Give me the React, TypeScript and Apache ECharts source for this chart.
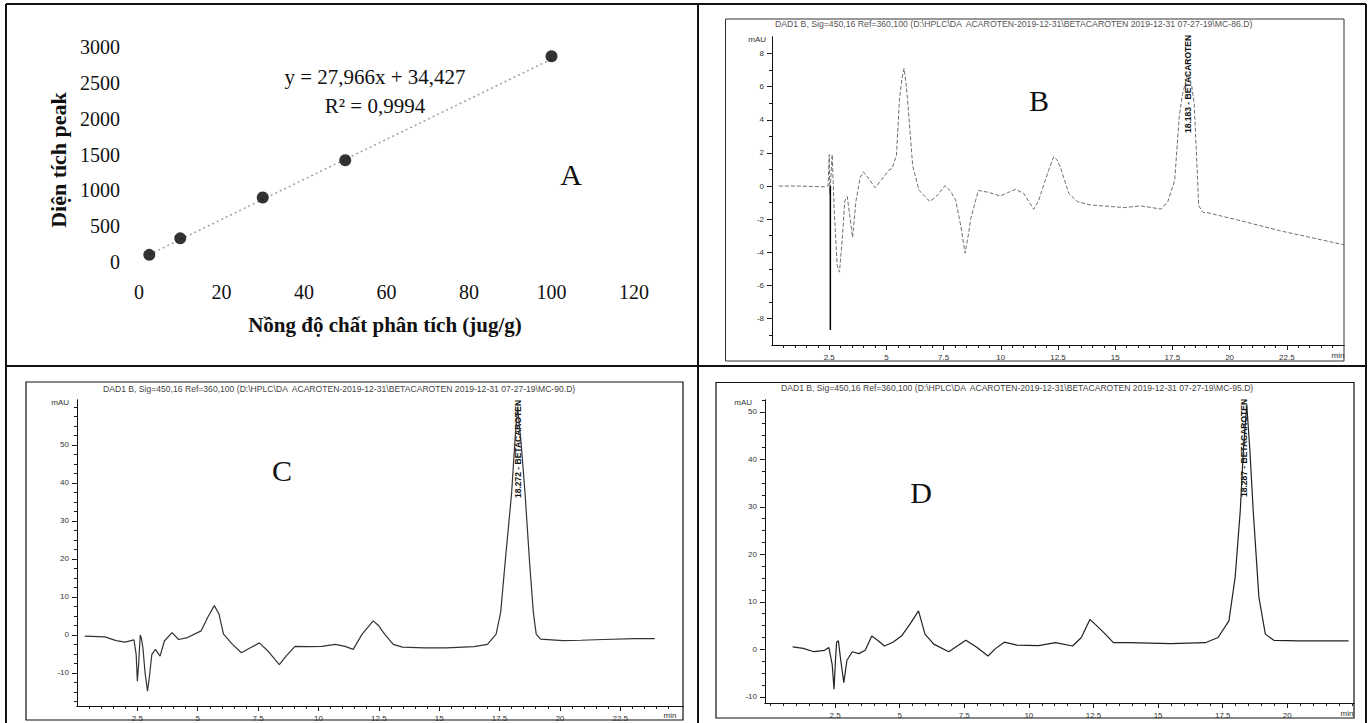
import React, { useEffect, useRef } from "react";
import * as echarts from "echarts";

// ---------- Panel A: calibration curve ----------
const calConc = [2.5, 10, 30, 50, 100];
const calArea = [100, 330, 900, 1420, 2870];
const trendConc = [2.5, 100];
const trendArea = [104, 2831];

// ---------- Panel B: chromatogram (standard) ----------
const bTime = [0.3, 1.2, 2.3, 2.45, 2.5, 2.53, 2.63, 2.72, 2.85, 2.95, 3.08, 3.18, 3.29, 3.4, 3.52, 3.67, 3.85, 3.99, 4.2, 4.51, 4.8, 5.11, 5.25, 5.44, 5.57, 5.68, 5.77, 5.86, 5.96, 6.15, 6.43, 6.9, 7.2, 7.56, 7.8, 8.03, 8.25, 8.44, 8.6, 8.68, 9.02, 9.43, 9.98, 10.3, 10.64, 11.0, 11.25, 11.44, 11.65, 11.85, 12.1, 12.31, 12.45, 12.6, 12.97, 13.35, 13.9, 14.84, 15.4, 16.1, 16.6, 17.0, 17.3, 17.6, 17.8, 17.95, 18.18, 18.35, 18.45, 18.55, 18.65, 18.85, 19.0, 20.5, 22.2, 25.0];
const bSignal = [0, 0, -0.05, 0, 1.9, -0.5, 1.9, -1.5, -4.8, -5.2, -3.0, -0.9, -0.64, -1.8, -3.1, -0.9, 0.5, 0.86, 0.5, -0.1, 0.4, 0.96, 1.06, 1.87, 5.2, 6.5, 7.1, 6.2, 4.6, 1.2, -0.26, -0.94, -0.6, 0.02, -0.3, -0.87, -2.4, -4.05, -2.8, -2.0, -0.27, -0.37, -0.6, -0.4, -0.2, -0.44, -1.0, -1.4, -0.9, -0.05, 1.0, 1.77, 1.6, 1.16, -0.44, -0.94, -1.14, -1.24, -1.3, -1.2, -1.3, -1.4, -0.94, 0.34, 4.2, 5.6, 6.8, 6.0, 5.0, 2.0, -1.2, -1.6, -1.6, -2.1, -2.7, -3.55];
const bSpikeTime = [2.55, 2.55];
const bSpikeSignal = [0, -8.7];

// ---------- Panel C: chromatogram (sample 1) ----------
const cTime = [0.32, 1.16, 1.62, 1.99, 2.36, 2.45, 2.5, 2.55, 2.62, 2.67, 2.73, 2.82, 2.92, 3.0, 3.1, 3.25, 3.44, 3.62, 3.94, 4.21, 4.58, 5.14, 5.41, 5.69, 5.88, 6.07, 6.44, 6.81, 7.18, 7.55, 7.92, 8.38, 8.66, 9.03, 9.59, 10.14, 10.7, 11.1, 11.44, 11.81, 12.27, 12.5, 12.74, 13.1, 13.48, 14.4, 15.3, 16.44, 17.0, 17.36, 17.55, 17.74, 18.0, 18.15, 18.25, 18.4, 18.56, 18.74, 18.9, 19.02, 19.2, 20.13, 20.87, 21.8, 23.1, 23.93];
const cSignal = [-0.3, -0.5, -1.5, -1.9, -1.3, -5.1, -12.2, -8, 0, -1.0, -3.4, -10, -14.8, -11, -5.1, -3.8, -5.6, -1.6, 0.6, -1.2, -0.7, 1.06, 4.6, 7.7, 5.5, 0.2, -2.5, -4.7, -3.4, -2.1, -4.3, -7.8, -5.6, -3.0, -3.1, -3.0, -2.5, -3.0, -3.8, 0.2, 3.7, 2.4, 0.2, -2.5, -3.2, -3.4, -3.4, -3.1, -2.5, 0.2, 6, 19.6, 37.2, 52, 60, 50, 37, 19.6, 6, 0.2, -1.1, -1.5, -1.4, -1.2, -1.0, -1.0];

// ---------- Panel D: chromatogram (sample 2) ----------
const dTime = [0.86, 1.27, 1.68, 2.1, 2.26, 2.39, 2.46, 2.52, 2.56, 2.63, 2.72, 2.84, 2.96, 3.17, 3.42, 3.67, 3.92, 4.17, 4.41, 4.74, 5.07, 5.4, 5.73, 5.98, 6.32, 6.9, 7.23, 7.56, 7.97, 8.42, 8.72, 9.05, 9.54, 10.37, 11.03, 11.69, 12.03, 12.36, 12.6, 12.94, 13.27, 13.85, 15.5, 16.83, 17.32, 17.74, 17.98, 18.18, 18.3, 18.43, 18.55, 18.68, 18.9, 19.15, 19.48, 20.47, 22.37];
const dSignal = [0.5, 0.2, -0.5, -0.2, 0.4, -3.2, -8.4, -2, 1.5, 1.8, -2.3, -7.0, -2.3, -0.5, -0.9, -0.2, 2.8, 1.8, 0.7, 1.5, 2.8, 5.3, 8.1, 3.2, 1.1, -0.5, 0.7, 1.9, 0.5, -1.4, 0.2, 1.5, 0.9, 0.8, 1.4, 0.7, 2.5, 6.3, 5.1, 3.3, 1.4, 1.4, 1.2, 1.4, 2.5, 6.0, 15.1, 29.2, 42, 51.5, 42, 29.2, 11, 3.2, 1.9, 1.8, 1.8];

// ---------- Tick labels ----------
const bcXLabels = [2.5, 5, 7.5, 10, 12.5, 15, 17.5, 20, 22.5];
const dXLabels = [2.5, 5, 7.5, 10, 12.5, 15, 17.5, 20];
const bYLabels = [-8, -6, -4, -2, 0, 2, 4, 6, 8];
const cYLabels = [-10, 0, 10, 20, 30, 40, 50];
const dYLabels = [-10, 0, 10, 20, 30, 40, 50];

const bTitle = "DAD1 B, Sig=450,16 Ref=360,100 (D:\\HPLC\\DA  ACAROTEN-2019-12-31\\BETACAROTEN 2019-12-31 07-27-19\\MC-86.D)";
const cTitle = "DAD1 B, Sig=450,16 Ref=360,100 (D:\\HPLC\\DA  ACAROTEN-2019-12-31\\BETACAROTEN 2019-12-31 07-27-19\\MC-90.D)";
const dTitle = "DAD1 B, Sig=450,16 Ref=360,100 (D:\\HPLC\\DA  ACAROTEN-2019-12-31\\BETACAROTEN 2019-12-31 07-27-19\\MC-95.D)";

const serif = "'Liberation Serif', 'DejaVu Serif', serif";
const sans = "'Liberation Sans', Arial, sans-serif";

function zip(a: number[], b: number[]) {
  return a.map((v, i) => [v, b[i]]);
}
function steps(a: number, b: number, s: number) {
  const r: number[] = [];
  for (let v = a; v <= b + 1e-9; v += s) r.push(Math.round(v * 100) / 100);
  return r;
}

function chromAxisPair(gridIndex: number, min: number, max: number, labels: number[], minor: number[], pos: string) {
  const main: any = {
    type: "value", gridIndex, min, max, position: pos,
    axisLine: { show: true, onZero: false, lineStyle: { color: "#111", width: 1 } },
    axisTick: { show: true, inside: false, length: 5, customValues: labels, lineStyle: { color: "#111", width: 1 } },
    axisLabel: { show: true, customValues: labels, fontSize: 8, fontFamily: sans, color: "#333", margin: 8, formatter: (v: number) => String(v) },
    splitLine: { show: false },
  };
  const sub: any = {
    type: "value", gridIndex, min, max, position: pos,
    axisLine: { show: true, onZero: false, lineStyle: { color: "#111", width: 1 } },
    axisTick: { show: true, inside: false, length: 3, customValues: minor, lineStyle: { color: "#222", width: 1 } },
    axisLabel: { show: false },
    splitLine: { show: false },
  };
  return [main, sub];
}

export default function App() {
  const ref = useRef<HTMLDivElement>(null);
  useEffect(() => {
    if (!ref.current) return;
    const chart = echarts.init(ref.current, null, { renderer: "svg" });

    const bx = chromAxisPair(1, 0, 25, bcXLabels, steps(0.5, 24.5, 0.5), "bottom");
    const cx = chromAxisPair(2, 0, 25.1, bcXLabels, steps(0.5, 24.5, 0.5), "bottom");
    const dx = chromAxisPair(3, -0.21, 22.58, dXLabels, steps(0, 22.5, 0.5), "bottom");
    const by = chromAxisPair(1, -9.6, 9, bYLabels, steps(-9, 8, 1), "left");
    const cy = chromAxisPair(2, -18.7, 61.8, cYLabels, steps(-17.5, 60, 2.5), "left");
    const dy = chromAxisPair(3, -11.3, 52.5, dYLabels, steps(-10, 52.5, 2.5), "left");

    const aLabel = { fontSize: 20, fontFamily: serif, color: "#111", formatter: (v: number) => String(v) };

    const option: any = {
      animation: false,
      backgroundColor: "#fff",
      grid: [
        { left: 139, top: 47, width: 495, height: 215 },
        { left: 772, top: 37, width: 572, height: 308 },
        { left: 77, top: 400, width: 606, height: 306 },
        { left: 765, top: 400, width: 589, height: 303 },
      ],
      xAxis: [
        {
          type: "value", gridIndex: 0, min: 0, max: 120, interval: 20,
          axisLine: { show: false }, axisTick: { show: false }, splitLine: { show: false },
          axisLabel: { ...aLabel, margin: 20 },
        },
        ...bx, ...cx, ...dx,
      ],
      yAxis: [
        {
          type: "value", gridIndex: 0, min: 0, max: 3000, interval: 500,
          axisLine: { show: false }, axisTick: { show: false }, splitLine: { show: false },
          axisLabel: { ...aLabel, margin: 19 },
        },
        ...by, ...cy, ...dy,
      ],
      series: [
        {
          type: "line", xAxisIndex: 0, yAxisIndex: 0, data: zip(trendConc, trendArea),
          symbol: "none", lineStyle: { color: "#a0a0a0", width: 1.5, type: [2, 3] }, z: 1,
        },
        {
          type: "scatter", xAxisIndex: 0, yAxisIndex: 0, data: zip(calConc, calArea),
          symbol: "circle", symbolSize: 12, itemStyle: { color: "#000" }, z: 3,
        },
        {
          type: "line", xAxisIndex: 1, yAxisIndex: 2, data: zip(bTime, bSignal),
          symbol: "none", lineStyle: { color: "#6e6e6e", width: 1, type: [4, 2] },
        },
        {
          type: "line", xAxisIndex: 1, yAxisIndex: 2, data: zip(bSpikeTime, bSpikeSignal),
          symbol: "none", lineStyle: { color: "#000", width: 1.5 },
        },
        {
          type: "line", xAxisIndex: 3, yAxisIndex: 4, data: zip(cTime, cSignal),
          symbol: "none", lineStyle: { color: "#333", width: 1.2 },
        },
        {
          type: "line", xAxisIndex: 5, yAxisIndex: 6, data: zip(dTime, dSignal),
          symbol: "none", lineStyle: { color: "#222", width: 1.2 },
        },
      ],
      graphic: [
        // table borders
        { type: "line", shape: { x1: 6, y1: 4, x2: 1366, y2: 4 }, style: { stroke: "#111", lineWidth: 2 } },
        { type: "line", shape: { x1: 6, y1: 4, x2: 6, y2: 723 }, style: { stroke: "#111", lineWidth: 2 } },
        { type: "line", shape: { x1: 1366, y1: 4, x2: 1366, y2: 723 }, style: { stroke: "#111", lineWidth: 2 } },
        { type: "line", shape: { x1: 698, y1: 4, x2: 698, y2: 723 }, style: { stroke: "#111", lineWidth: 2 } },
        { type: "line", shape: { x1: 6, y1: 366, x2: 1366, y2: 366 }, style: { stroke: "#111", lineWidth: 2 } },
        // chromatogram frames
        { type: "rect", shape: { x: 725.5, y: 19, width: 618.5, height: 342 }, style: { fill: "none", stroke: "#333", lineWidth: 1 } },
        { type: "rect", shape: { x: 26, y: 382, width: 657, height: 338 }, style: { fill: "none", stroke: "#111", lineWidth: 1.2 } },
        { type: "rect", shape: { x: 716, y: 382.5, width: 638, height: 335.5 }, style: { fill: "none", stroke: "#111", lineWidth: 1.2 } },
        // panel A texts
        { type: "text", x: 375, y: 77, style: { text: "y = 27,966x + 34,427", font: `21px ${serif}`, fill: "#111", align: "center", verticalAlign: "middle" } },
        { type: "text", x: 375, y: 106, style: { text: "R² = 0,9994", font: `21px ${serif}`, fill: "#111", align: "center", verticalAlign: "middle" } },
        { type: "text", x: 571, y: 174, style: { text: "A", font: `30px ${serif}`, fill: "#111", align: "center", verticalAlign: "middle" } },
        { type: "text", x: 385, y: 325, style: { text: "Nồng độ chất phân tích (jug/g)", font: `bold 21px ${serif}`, fill: "#111", align: "center", verticalAlign: "middle" } },
        { type: "text", x: 58, y: 160, rotation: Math.PI / 2, style: { text: "Diện tích peak", font: `bold 22px ${serif}`, fill: "#111", align: "center", verticalAlign: "middle" } },
        // chromatogram titles
        { type: "text", x: 775, y: 24, style: { text: bTitle, font: `8.7px ${sans}`, fill: "#555", align: "left", verticalAlign: "middle" } },
        { type: "text", x: 103, y: 389, style: { text: cTitle, font: `8.6px ${sans}`, fill: "#444", align: "left", verticalAlign: "middle" } },
        { type: "text", x: 781, y: 388, style: { text: dTitle, font: `8.6px ${sans}`, fill: "#444", align: "left", verticalAlign: "middle" } },
        // panel letters
        { type: "text", x: 1039, y: 100, style: { text: "B", font: `30px ${serif}`, fill: "#111", align: "center", verticalAlign: "middle" } },
        { type: "text", x: 282, y: 470, style: { text: "C", font: `30px ${serif}`, fill: "#111", align: "center", verticalAlign: "middle" } },
        { type: "text", x: 921, y: 492, style: { text: "D", font: `30px ${serif}`, fill: "#111", align: "center", verticalAlign: "middle" } },
        // mAU
        { type: "text", x: 766, y: 39, style: { text: "mAU", font: `8px ${sans}`, fill: "#333", align: "right", verticalAlign: "middle" } },
        { type: "text", x: 69, y: 402, style: { text: "mAU", font: `8px ${sans}`, fill: "#333", align: "right", verticalAlign: "middle" } },
        { type: "text", x: 752, y: 402, style: { text: "mAU", font: `8px ${sans}`, fill: "#333", align: "right", verticalAlign: "middle" } },
        // min
        { type: "text", x: 1338, y: 355, style: { text: "min", font: `8px ${sans}`, fill: "#333", align: "center", verticalAlign: "middle" } },
        { type: "text", x: 670, y: 715, style: { text: "min", font: `8px ${sans}`, fill: "#333", align: "center", verticalAlign: "middle" } },
        { type: "text", x: 1347, y: 713, style: { text: "min", font: `8px ${sans}`, fill: "#333", align: "center", verticalAlign: "middle" } },
        // peak labels
        { type: "text", x: 1188, y: 133, rotation: Math.PI / 2, style: { text: "18.183 - BETACAROTEN", font: `bold 8.5px ${sans}`, fill: "#111", align: "left", verticalAlign: "middle" } },
        { type: "text", x: 518, y: 498, rotation: Math.PI / 2, style: { text: "18.272 - BETACAROTEN", font: `bold 8.5px ${sans}`, fill: "#111", align: "left", verticalAlign: "middle" } },
        { type: "text", x: 1244, y: 497, rotation: Math.PI / 2, style: { text: "18.287 - BETACAROTEN", font: `bold 8.5px ${sans}`, fill: "#111", align: "left", verticalAlign: "middle" } },
      ],
    };
    chart.setOption(option);
    return () => chart.dispose();
  }, []);
  return (
    <div
      ref={ref}
      style={{ position: "fixed", left: 0, top: 0, width: 1370, height: 723, background: "#fff" }}
    />
  );
}
